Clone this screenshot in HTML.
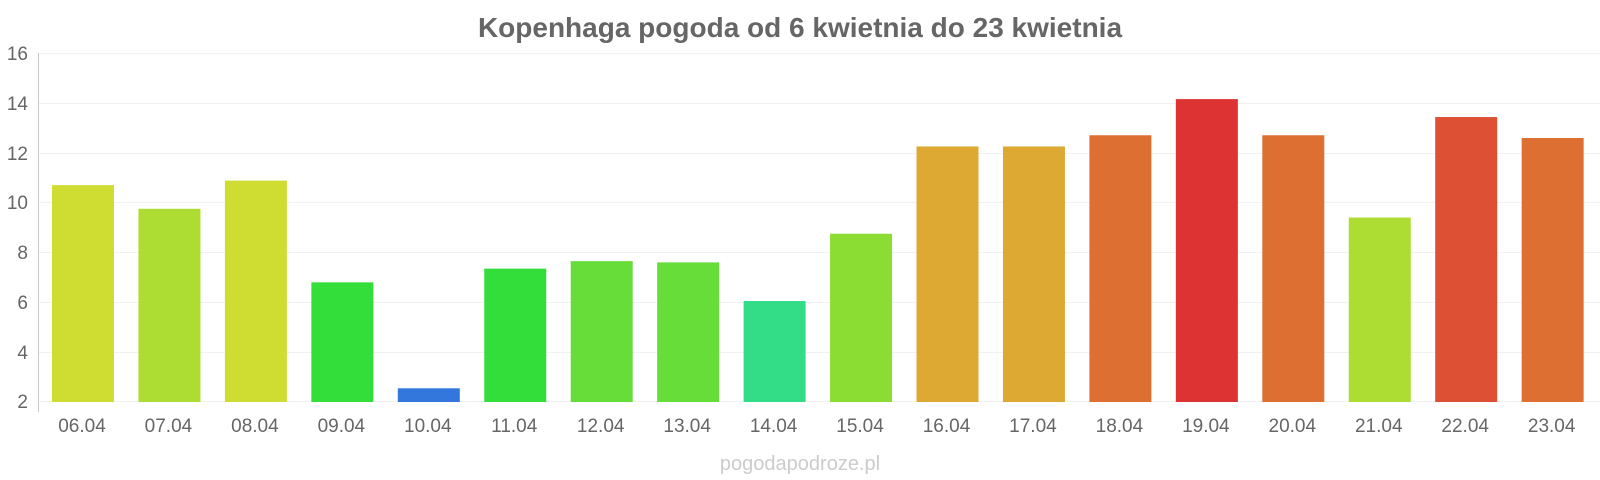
<!DOCTYPE html>
<html><head><meta charset="utf-8"><style>
html,body{margin:0;padding:0;background:#fff;}
svg{display:block;font-family:"Liberation Sans",Arial,sans-serif;}
</style></head><body>
<svg width="1600" height="480" viewBox="0 0 1600 480" xmlns="http://www.w3.org/2000/svg">
<text x="800" y="37" text-anchor="middle" font-size="28" font-weight="bold" fill="#666">Kopenhaga pogoda od 6 kwietnia do 23 kwietnia</text>
<g stroke="#f2f2f2" stroke-width="1">
<line x1="38" x2="1600" y1="53.5" y2="53.5"/>
<line x1="38" x2="1600" y1="103.5" y2="103.5"/>
<line x1="38" x2="1600" y1="153.5" y2="153.5"/>
<line x1="38" x2="1600" y1="202.5" y2="202.5"/>
<line x1="38" x2="1600" y1="252.5" y2="252.5"/>
<line x1="38" x2="1600" y1="302.5" y2="302.5"/>
<line x1="38" x2="1600" y1="352.5" y2="352.5"/>
<line x1="38" x2="1600" y1="401.5" y2="401.5"/>
</g>
<line x1="38.5" x2="38.5" y1="53" y2="412" stroke="#c8c8c8"/>
<g font-size="19" fill="#666" text-anchor="end">
<text x="28" y="60">16</text>
<text x="28" y="110">14</text>
<text x="28" y="160">12</text>
<text x="28" y="209">10</text>
<text x="28" y="259">8</text>
<text x="28" y="309">6</text>
<text x="28" y="359">4</text>
<text x="28" y="408">2</text>
</g>
<g id="bars"></g>
<g id="labels" font-size="19" fill="#666" text-anchor="middle"></g>
<text x="800" y="470" text-anchor="middle" font-size="20" fill="#ccc">pogodapodroze.pl</text>
<script>
var d=[["06.04",10.7,"#cfdd33"],["07.04",9.75,"#addd33"],["08.04",10.88,"#cfdd33"],["09.04",6.8,"#33dd3a"],["10.04",2.55,"#3377dd"],["11.04",7.35,"#33dd3a"],["12.04",7.65,"#66dd38"],["13.04",7.6,"#66dd38"],["14.04",6.05,"#33dd88"],["15.04",8.75,"#8cdd33"],["16.04",12.25,"#dda933"],["17.04",12.25,"#dda933"],["18.04",12.7,"#dd6f33"],["19.04",14.15,"#dd3333"],["20.04",12.7,"#dd6f33"],["21.04",9.4,"#addd33"],["22.04",13.43,"#dd5033"],["23.04",12.59,"#dd6f33"]];
var ns="http://www.w3.org/2000/svg",b=document.getElementById("bars"),l=document.getElementById("labels");
d.forEach(function(e,i){var cx=83+i*86.45,top=402-(e[1]-2)*24.93;
var r=document.createElementNS(ns,"rect");r.setAttribute("x",cx-31);r.setAttribute("y",top);r.setAttribute("width",62);r.setAttribute("height",402-top);r.setAttribute("fill",e[2]);b.appendChild(r);
var t=document.createElementNS(ns,"text");t.setAttribute("x",cx-1);t.setAttribute("y",432);t.textContent=e[0];l.appendChild(t);});
</script>
</svg>
</body></html>
